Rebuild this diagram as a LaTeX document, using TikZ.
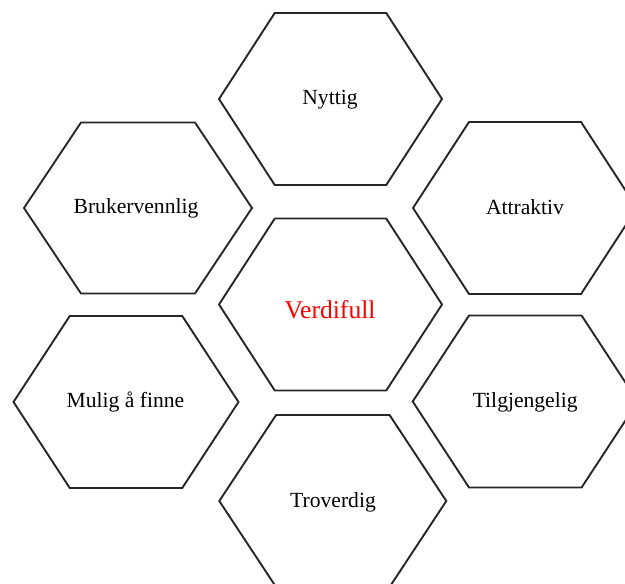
\documentclass[tikz,border=0pt]{standalone}
\usepackage{fontspec}
\setmainfont{Liberation Serif}
\begin{document}
\begin{tikzpicture}[x=0.5pt,y=-0.5pt,
  hexline/.style={draw=black!85,line width=0.95pt,line join=miter},
  label/.style={font=\fontsize{10.8pt}{12pt}\selectfont,text=black,inner sep=0pt},
  core/.style={font=\fontsize{12.8pt}{14pt}\selectfont,text=red,inner sep=0pt}]
% flat-topped hexagon around a named centre: #1 centre, #2 half width, #3 half height
\newcommand\hexcell[3]{%
  \draw[hexline] ([shift={(-#2,0)}]#1) -- ([shift={(-#2/2,-#3)}]#1)
    -- ([shift={(#2/2,-#3)}]#1) -- ([shift={(#2,0)}]#1)
    -- ([shift={(#2/2,#3)}]#1) -- ([shift={(-#2/2,#3)}]#1) -- cycle;}
\useasboundingbox (0,0) rectangle (625,583);
\clip (0,0) rectangle (625,583);
% cell centres
\coordinate (cNyttig) at (330.5,99);
\coordinate (cBruker) at (138,208);
\coordinate (cAttr) at (525,208);
\coordinate (cVerdi) at (330.5,304.5);
\coordinate (cMulig) at (126,402);
\coordinate (cTilg) at (525.3,401.5);
\coordinate (cTrov) at (332.8,501);
% cells
\hexcell{cNyttig}{111.5}{86}
\hexcell{cBruker}{114}{85.5}
\hexcell{cAttr}{112}{86}
\hexcell{cVerdi}{111.5}{86}
\hexcell{cMulig}{112.5}{86}
\hexcell{cTilg}{112.6}{86}
\hexcell{cTrov}{113.5}{86}
% labels
\node[label] (nyttig) at (330,99.5) {Nyttig};
\node[label] (bruker) at (136,208) {Brukervennlig};
\node[label] (attr) at (525,207) {Attraktiv};
\node[core] (verdi) at (330,310) {Verdifull};
\node[label] (mulig) at (125.5,402) {Mulig å finne};
\node[label] (tilg) at (525.2,402) {Tilgjengelig};
\node[label] (trov) at (333,502) {Troverdig};
\end{tikzpicture}
\end{document}
